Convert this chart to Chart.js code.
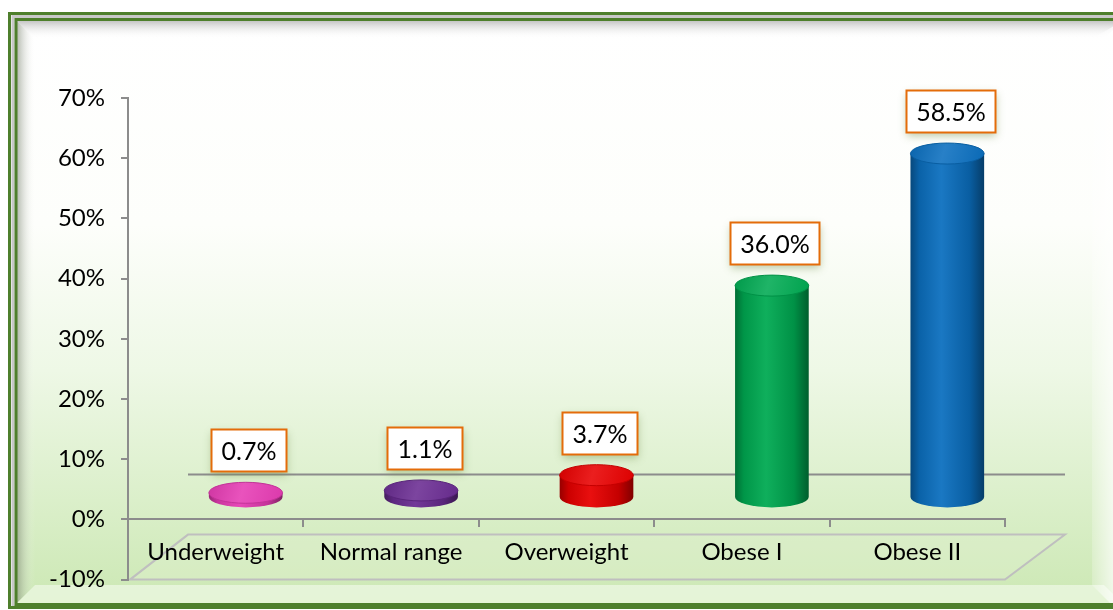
<!DOCTYPE html>
<html>
<head>
<meta charset="utf-8">
<style>
  html, body { margin: 0; padding: 0; background: #fff; }
  canvas { display: block; }
</style>
<script src="https://cdn.jsdelivr.net/npm/chart.js@4.4.1/dist/chart.umd.min.js"></script>
</head>
<body>
<canvas id="bmiChart" width="1113" height="610"></canvas>
<script>
// data
const categories = ['Underweight', 'Normal range', 'Overweight', 'Obese I', 'Obese II'];
const percentValues = [0.7, 1.1, 3.7, 36.0, 58.5];
const barColors = ['#e63cb4', '#6a2c92', '#e80000', '#00aa52', '#0b6fbf'];
const yTicks = [-10, 0, 10, 20, 30, 40, 50, 60, 70];

const FONT = 'Lato, "Open Sans", sans-serif';
const DEPTH_X = 60, DEPTH_Y = -45;   // 3d floor depth
const PERSP = 0.975;                 // bars sit a bit back, so they read slightly shorter

// mix a colour with white (amt > 0) or black (amt < 0)
function shade(hex, amt) {
  const n = parseInt(hex.slice(1), 16);
  let r = n >> 16, g = (n >> 8) & 255, b = n & 255;
  const t = amt < 0 ? 0 : 255, p = Math.abs(amt);
  r = Math.round(r + (t - r) * p);
  g = Math.round(g + (t - g) * p);
  b = Math.round(b + (t - b) * p);
  return `rgb(${r},${g},${b})`;
}

// background panel with green double border and bevel
const framePlugin = {
  id: 'frame',
  beforeDraw(chart) {
    const ctx = chart.ctx;
    const W = chart.width, H = chart.height;
    ctx.save();
    ctx.fillStyle = '#fff';
    ctx.fillRect(0, 0, W, H);

    const L = 17, T = 21, R = 1122, B = 603;
    const g = ctx.createLinearGradient(0, T, 0, B);
    g.addColorStop(0, '#ffffff');
    g.addColorStop(0.35, '#fdfefb');
    g.addColorStop(0.6, '#eef8e6');
    g.addColorStop(1, '#cce8b4');
    ctx.fillStyle = g;
    ctx.fillRect(L, T, R - L, B - T);

    const bev = 18;
    // top bevel
    let bg = ctx.createLinearGradient(0, T, 0, T + bev);
    bg.addColorStop(0, 'rgba(150,150,150,0.55)');
    bg.addColorStop(1, 'rgba(255,255,255,0)');
    ctx.fillStyle = bg;
    ctx.beginPath();
    ctx.moveTo(L, T); ctx.lineTo(R, T); ctx.lineTo(R - bev, T + bev); ctx.lineTo(L + bev, T + bev);
    ctx.closePath(); ctx.fill();
    // left bevel
    bg = ctx.createLinearGradient(L, 0, L + bev, 0);
    bg.addColorStop(0, 'rgba(120,130,110,0.55)');
    bg.addColorStop(1, 'rgba(255,255,255,0)');
    ctx.fillStyle = bg;
    ctx.beginPath();
    ctx.moveTo(L, T); ctx.lineTo(L + bev, T + bev); ctx.lineTo(L + bev, B - bev); ctx.lineTo(L, B);
    ctx.closePath(); ctx.fill();
    // bottom bevel
    ctx.fillStyle = 'rgba(245,252,238,0.6)';
    ctx.beginPath();
    ctx.moveTo(L, B); ctx.lineTo(L + bev, B - bev); ctx.lineTo(R - bev, B - bev); ctx.lineTo(R, B);
    ctx.closePath(); ctx.fill();
    // right bevel
    bg = ctx.createLinearGradient(1092, 0, 1113, 0);
    bg.addColorStop(0, 'rgba(255,255,255,0.2)');
    bg.addColorStop(1, 'rgba(255,255,255,0.7)');
    ctx.fillStyle = bg;
    ctx.beginPath();
    ctx.moveTo(1092 + 30, T); ctx.lineTo(1092, T + bev); ctx.lineTo(1092, B - bev); ctx.lineTo(1092 + 30, B + 12);
    ctx.closePath(); ctx.fill();

    // borders
    ctx.strokeStyle = '#c8c8c8';
    ctx.lineWidth = 3;
    ctx.strokeRect(13, 16.5, 1130, 590);
    ctx.strokeStyle = '#4e7f2c';
    ctx.lineWidth = 3;
    ctx.strokeRect(9.5, 13.5, 1130, 594);
    ctx.strokeRect(16, 19.5, 1120, 585);
    ctx.restore();

    // 3d floor and back baseline
    const y = chart.scales.y;
    const area = chart.chartArea;
    const y0 = y.getPixelForValue(0), yMin = y.getPixelForValue(yTicks[0]);
    ctx.save();
    ctx.strokeStyle = '#bfbfbf';
    ctx.lineWidth = 2;
    ctx.fillStyle = 'rgba(225,242,210,0.35)';
    ctx.beginPath();
    ctx.moveTo(area.left + 2, yMin);
    ctx.lineTo(area.right, yMin);
    ctx.lineTo(area.right + DEPTH_X, yMin + DEPTH_Y);
    ctx.lineTo(area.left + DEPTH_X, yMin + DEPTH_Y);
    ctx.closePath();
    ctx.fill();
    ctx.stroke();
    ctx.strokeStyle = '#8c8c8c';
    ctx.beginPath();
    ctx.moveTo(area.left + DEPTH_X, y0 + DEPTH_Y);
    ctx.lineTo(area.right + DEPTH_X, y0 + DEPTH_Y);
    ctx.stroke();
    ctx.restore();
  }
};

// cylinders + value boxes
const cylinderPlugin = {
  id: 'cylinders',
  afterDatasetsDraw(chart) {
    const ctx = chart.ctx;
    const meta = chart.getDatasetMeta(0);
    const y = chart.scales.y;
    const y0 = y.getPixelForValue(0);
    meta.data.forEach((bar, i) => {
      const color = barColors[i];
      const cx = bar.x + DEPTH_X / 2;
      const rx = bar.width / 2;
      const ry = 10.5;
      const yBot = y0 + DEPTH_Y / 2;
      const yTop = yBot + (bar.y - y0) * PERSP;
      const left = cx - rx, right = cx + rx;

      ctx.save();
      const body = ctx.createLinearGradient(left, 0, right, 0);
      body.addColorStop(0, shade(color, -0.35));
      body.addColorStop(0.12, shade(color, -0.12));
      body.addColorStop(0.42, shade(color, 0.06));
      body.addColorStop(0.8, shade(color, -0.15));
      body.addColorStop(1, shade(color, -0.45));
      ctx.fillStyle = body;
      ctx.beginPath();
      ctx.moveTo(left, yTop);
      ctx.lineTo(left, yBot);
      ctx.ellipse(cx, yBot, rx, ry, 0, Math.PI, 0, true);
      ctx.lineTo(right, yTop);
      ctx.closePath();
      ctx.fill();

      const cap = ctx.createLinearGradient(left, yTop - ry, right, yTop + ry);
      cap.addColorStop(0, shade(color, -0.1));
      cap.addColorStop(0.45, shade(color, 0.12));
      cap.addColorStop(1, shade(color, -0.05));
      ctx.fillStyle = cap;
      ctx.beginPath();
      ctx.ellipse(cx, yTop, rx, ry, 0, 0, Math.PI * 2);
      ctx.fill();
      ctx.strokeStyle = shade(color, -0.15);
      ctx.lineWidth = 1;
      ctx.stroke();
      ctx.restore();

      // value label box
      const text = percentValues[i].toFixed(1) + '%';
      ctx.save();
      ctx.font = '25px ' + FONT;
      const tw = ctx.measureText(text).width;
      const bw = Math.round(tw + 20), bh = 42;
      const bx = Math.round(cx + 3 - bw / 2) + 0.5;
      const by = Math.round(yTop - ry - 11 - bh) + 0.5;
      ctx.shadowColor = 'rgba(110,140,70,0.45)';
      ctx.shadowBlur = 8;
      ctx.shadowOffsetY = 3;
      ctx.fillStyle = '#fff';
      ctx.fillRect(bx, by, bw, bh);
      ctx.shadowColor = 'transparent';
      ctx.strokeStyle = '#e46c0a';
      ctx.lineWidth = 2;
      ctx.strokeRect(bx, by, bw, bh);
      ctx.fillStyle = '#000';
      ctx.textAlign = 'center';
      ctx.textBaseline = 'middle';
      ctx.fillText(text, bx + bw / 2, by + bh / 2 + 1);
      ctx.restore();
    });
  }
};

const ctx = document.getElementById('bmiChart').getContext('2d');
new Chart(ctx, {
  type: 'bar',
  data: {
    labels: categories,
    datasets: [{
      data: percentValues,
      backgroundColor: 'rgba(0,0,0,0)',
      borderWidth: 0,
      categoryPercentage: 1,
      barPercentage: 0.42
    }]
  },
  options: {
    responsive: false,
    animation: false,
    devicePixelRatio: 1,
    layout: { padding: { top: 98, right: 108, bottom: 0, left: 0 } },
    plugins: {
      legend: { display: false },
      tooltip: { enabled: false }
    },
    scales: {
      x: {
        position: { y: 0 },
        afterFit(scale) { scale.height = 36; },
        grid: { drawOnChartArea: false, drawTicks: true, tickLength: 7, color: '#8c8c8c', lineWidth: 2 },
        border: { display: true, color: '#8c8c8c', width: 2 },
        ticks: { color: '#000', font: { family: FONT, size: 24 }, padding: 11 }
      },
      y: {
        min: yTicks[0],
        max: yTicks[yTicks.length - 1],
        afterFit(scale) { scale.width = 128; },
        afterBuildTicks(scale) { scale.ticks = yTicks.map(v => ({ value: v })); },
        grid: { drawOnChartArea: false, drawTicks: true, tickLength: 7, color: '#8c8c8c', lineWidth: 2 },
        border: { display: true, color: '#8c8c8c', width: 2 },
        ticks: {
          color: '#000',
          font: { family: FONT, size: 24 },
          padding: 16,
          callback: v => v + '%'
        }
      }
    }
  },
  plugins: [framePlugin, cylinderPlugin]
});
</script>
</body>
</html>
